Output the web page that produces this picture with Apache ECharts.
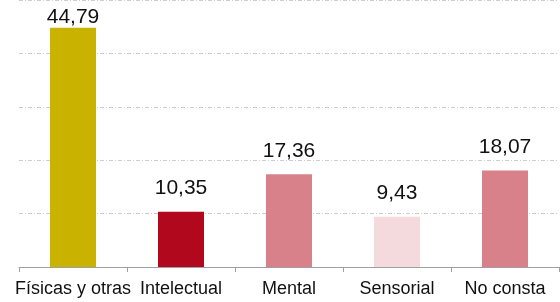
<!DOCTYPE html>
<html>
<head>
<meta charset="utf-8">
<script src="https://cdn.jsdelivr.net/npm/echarts@6/dist/echarts.min.js"></script>
<style>
  html, body { margin: 0; padding: 0; background: #fff; }
</style>
</head>
<body>
<!-- contenedor del gráfico -->
<div id="chart" style="width: 560px; height: 302px"></div>
<script>
// categorías del eje x
var categorias = ["Físicas y otras", "Intelectual", "Mental", "Sensorial", "No consta"];
// porcentajes de cada barra
var valores = [44.79, 10.35, 17.36, 9.43, 18.07];
// color de cada barra
var colores = ["#c9b200", "#b1081e", "#d8818b", "#f4d9dd", "#d8818b"];

var chart = echarts.init(document.getElementById("chart"));

var datos = [];
for (var i = 0; i < valores.length; i++) {
  var item = {
    value: valores[i],
    itemStyle: { color: colores[i] },
  };
  // la primera etiqueta queda pegada a la barra para no salirse del área
  if (i === 0) {
    item.label = { distance: 0 };
  }
  datos.push(item);
}

chart.setOption({
  animation: false,
  grid: {
    left: 19,
    right: 1,
    top: 0,
    bottom: 35,
  },
  xAxis: {
    type: "category",
    data: categorias,
    axisLine: { lineStyle: { color: "#a0a0a0", width: 1 } },
    axisTick: { show: true, length: 5, lineStyle: { color: "#a0a0a0" } },
    axisLabel: {
      interval: 0,
      hideOverlap: false,
      color: "#111",
      fontSize: 18,
      fontFamily: "Liberation Sans, Arial, sans-serif",
      margin: 13,
    },
  },
  yAxis: {
    type: "value",
    min: 0,
    max: 50,
    interval: 10,
    axisLabel: { show: false },
    axisLine: { show: false },
    axisTick: { show: false },
    // líneas de división punteadas
    splitLine: {
      show: true,
      lineStyle: { color: "#cccccc", type: [4, 2, 1, 2], width: 1 },
    },
  },
  series: [
    {
      type: "bar",
      data: datos,
      barWidth: 46,
      label: {
        show: true,
        position: "top",
        distance: 13,
        color: "#111",
        fontSize: 21,
        fontFamily: "Liberation Sans, Arial, sans-serif",
        formatter: function (p) {
          return p.value.toFixed(2).replace(".", ",");
        },
      },
    },
  ],
});
</script>
</body>
</html>
